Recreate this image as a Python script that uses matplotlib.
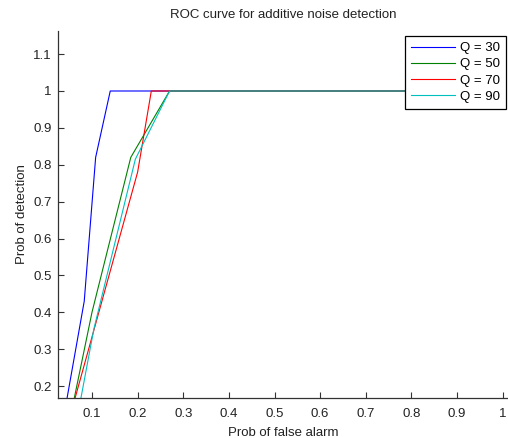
"""
ROC curves for additive noise detection at several quality factors Q,
drawn in the old MATLAB style (box off, ticks inside, boxed legend).
"""
import matplotlib
matplotlib.use("Agg")
import matplotlib.pyplot as plt

plt.rcParams["font.family"] = ["Liberation Sans", "DejaVu Sans"]

# (false alarm, detection) points
pfa_q30 = [0.030, 0.083, 0.108, 0.140, 1.0]
pd_q30 = [0.06, 0.43, 0.82, 1.0, 1.0]

pfa_q50 = [0.035, 0.100, 0.185, 0.270, 1.0]
pd_q50 = [0.01, 0.40, 0.82, 1.0, 1.0]

pfa_q70 = [0.030, 0.200, 0.230, 1.0]
pd_q70 = [0.02, 0.78, 1.0, 1.0]

pfa_q90 = [0.058, 0.104, 0.195, 0.270, 1.0]
pd_q90 = [0.05, 0.354, 0.815, 1.0, 1.0]

labels = ["Q = 30", "Q = 50", "Q = 70", "Q = 90"]
colors = ["#0000ff", "#008000", "#ff0000", "#00bfbf"]

xticks = [0.1, 0.2, 0.3, 0.4, 0.5, 0.6, 0.7, 0.8, 0.9, 1.0]
xtick_labels = ["0.1", "0.2", "0.3", "0.4", "0.5", "0.6", "0.7", "0.8", "0.9", "1"]
yticks = [0.2, 0.3, 0.4, 0.5, 0.6, 0.7, 0.8, 0.9, 1.0, 1.1]
ytick_labels = ["0.2", "0.3", "0.4", "0.5", "0.6", "0.7", "0.8", "0.9", "1", "1.1"]

FS = 9.5


def main() -> None:
    W, H = 508, 438
    fig = plt.figure(figsize=(W / 100, H / 100), dpi=100)
    ax = fig.add_axes([57.5 / W, (H - 398) / H, (W - 57.5) / W, (398 - 31) / H])

    series = [(pfa_q30, pd_q30), (pfa_q50, pd_q50), (pfa_q70, pd_q70), (pfa_q90, pd_q90)]
    for (x, y), lab, c in zip(series, labels, colors):
        ax.plot(x, y, color=c, lw=0.8, label=lab)

    ax.set_xlim(0.0244, 1.0117)
    ax.set_ylim(0.1675, 1.1627)
    ax.set_xticks(xticks, xtick_labels)
    ax.set_yticks(yticks, ytick_labels)

    for s in ("top", "right"):
        ax.spines[s].set_visible(False)
    for s in ("left", "bottom"):
        ax.spines[s].set_color("#333333")
        ax.spines[s].set_linewidth(0.9)
    ax.tick_params(direction="in", length=4, width=0.8, color="#333333",
                   labelsize=FS, labelcolor="#222222", pad=4)
    ax.tick_params(axis="x", pad=7)

    ax.set_title("ROC curve for additive noise detection", fontsize=FS, color="#222222", pad=9)
    ax.set_xlabel("Prob of false alarm", fontsize=FS, color="#222222", labelpad=5)
    ax.set_ylabel("Prob of detection", fontsize=FS, color="#222222", labelpad=4)

    leg = ax.legend(loc="upper right", bbox_to_anchor=(506 / W, (H - 36) / H),
                    bbox_transform=fig.transFigure, fontsize=FS, frameon=True,
                    fancybox=False, handlelength=3.3, handletextpad=0.4,
                    labelspacing=0.3, borderpad=0.45, borderaxespad=0)
    leg.get_frame().set_edgecolor("black")
    leg.get_frame().set_linewidth(0.9)
    leg.get_frame().set_alpha(1.0)

    fig.savefig("out.png", dpi=100)


if __name__ == "__main__":
    main()
